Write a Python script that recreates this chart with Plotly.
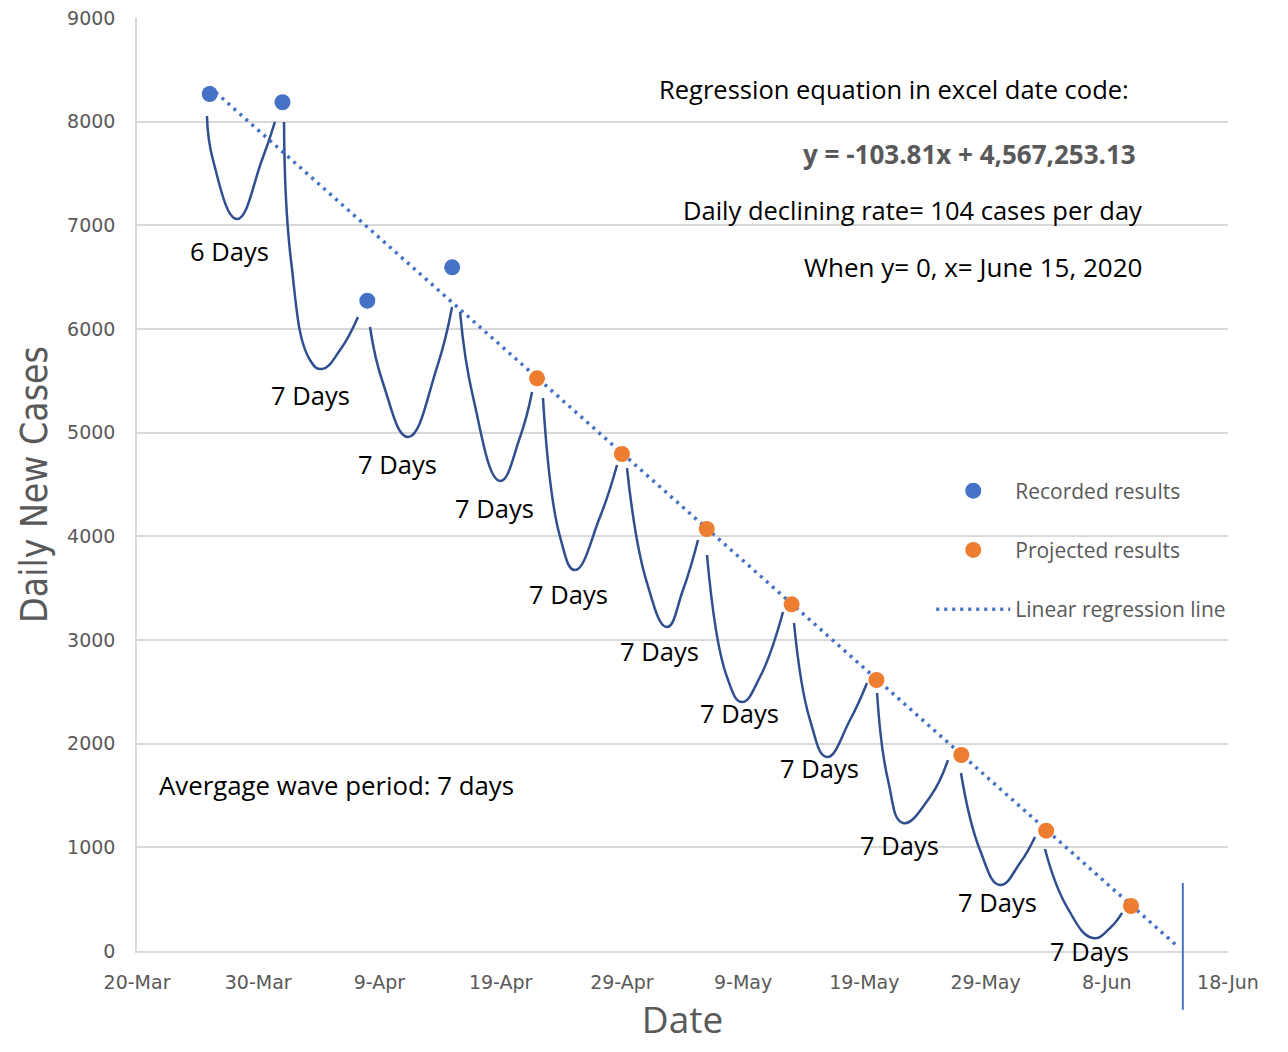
import datetime as dt
import plotly.graph_objects as go

BASE = dt.datetime(2020, 3, 20)

def d(days):
    return BASE + dt.timedelta(days=days)

# --- data ---------------------------------------------------------------
recorded_dates = ["2020-03-26", "2020-04-01", "2020-04-08", "2020-04-15"]
recorded_values = [8267, 8187, 6273, 6595]

projected_dates = ["2020-04-22", "2020-04-29", "2020-05-06", "2020-05-13",
                   "2020-05-20", "2020-05-27", "2020-06-03", "2020-06-10"]
projected_values = [5524, 4794, 4071, 3344, 2614, 1891, 1161, 434]

# regression in Excel date code: y = slope*x + intercept
slope = -103.81
intercept = 4567253.13
excel_mar20 = 43910          # Excel serial of 20-Mar-2020
trend_x_excel = [43916, 43995.7]

# wave sketches: days since 20-Mar and values (start, descent, trough, ascent, end)
wave_days = [
    [5.77, 6.27, 8.25, 10.31, 11.38],
    [12.13, 12.70, 14.27, 15.26, 16.75, 18.23],
    [19.22, 20.29, 22.36, 24.75, 25.99],
    [26.65, 27.72, 29.95, 31.60, 32.59],
    [33.49, 34.90, 36.13, 38.19, 39.60],
    [40.42, 42.07, 43.72, 45.04, 46.28],
    [47.02, 48.67, 49.91, 51.39, 53.29],
    [54.20, 55.52, 56.92, 58.82, 60.22],
    [61.05, 61.95, 63.19, 65.42, 66.90],
    [67.97, 69.54, 71.19, 72.84, 74.08],
    [74.90, 76.72, 78.86, 80.27, 81.26],
]
wave_values = [
    [8055, 7630, 7061, 7630, 7997],
    [7997, 6666, 5701, 5614, 5797, 6116],
    [6019, 5479, 4958, 5633, 6212],
    [6164, 5344, 4534, 4958, 5392],
    [5334, 3994, 3675, 4186, 4688],
    [4659, 3550, 3125, 3482, 3965],
    [3820, 2643, 2402, 2643, 3270],
    [3164, 2228, 1871, 2228, 2585],
    [2489, 1650, 1235, 1486, 1842],
    [1717, 974, 637, 849, 1100],
    [984, 424, 125, 222, 367],
]

label_texts = ["6 Days"] + ["7 Days"] * 10
label_days = [7.59, 14.35, 21.45, 29.53, 35.56, 43.14, 49.74, 56.34, 62.94, 70.95, 78.54]
label_values = [6752, 5363, 4698, 4273, 3444, 2894, 2296, 1765, 1022, 473, 2]

tick_dates = ["2020-03-20", "2020-03-30", "2020-04-09", "2020-04-19", "2020-04-29",
              "2020-05-09", "2020-05-19", "2020-05-29", "2020-06-08", "2020-06-18"]
tick_labels = ["20-Mar", "30-Mar", "9-Apr", "19-Apr", "29-Apr",
               "9-May", "19-May", "29-May", "8-Jun", "18-Jun"]
y_ticks = [0, 1000, 2000, 3000, 4000, 5000, 6000, 7000, 8000, 9000]

# --- derived ------------------------------------------------------------
trend_x = [d(x - excel_mar20) for x in trend_x_excel]
trend_y = [slope * x + intercept for x in trend_x_excel]
zero_day = -intercept / slope - excel_mar20

wx, wy = [], []
for ds, vs in zip(wave_days, wave_values):
    wx += [d(v) for v in ds] + [None]
    wy += vs + [None]

BLUE = "#4472C4"
ORANGE = "#ED7D31"
NAVY = "#2F4F8F"
GRAY = "#595959"
TXT = "Open Sans"

fig = go.Figure()

fig.add_trace(go.Scatter(x=wx, y=wy, mode="lines", line=dict(color=NAVY, width=2.5, shape="spline", smoothing=1.3),
                         showlegend=False, hoverinfo="skip", connectgaps=False))
fig.add_trace(go.Scatter(x=trend_x, y=trend_y, mode="lines", name="Linear regression line",
                         line=dict(color=BLUE, width=3.5, dash="3px,5px"), legendgroup="c", legendrank=3))
fig.add_trace(go.Scatter(x=recorded_dates, y=recorded_values, mode="markers", name="Recorded results",
                         marker=dict(color=BLUE, size=16), legendgroup="a", legendrank=1))
fig.add_trace(go.Scatter(x=projected_dates, y=projected_values, mode="markers", name="Projected results",
                         marker=dict(color=ORANGE, size=16), legendgroup="b", legendrank=2))

for t, dd, vv in zip(label_texts, label_days, label_values):
    fig.add_annotation(x=d(dd), y=vv, text=t, showarrow=False, font=dict(family=TXT, size=25.5, color="#000000"))

notes = [
    ("Regression equation in excel date code:", 0.911, 0.924, 25.5, "#000000"),
    ("<b>y = -103.81x + 4,567,253.13</b>", 0.9177, 0.854, 26, GRAY),
    ("Daily declining rate= 104 cases per day", 0.923, 0.794, 25.5, "#000000"),
    ("When y= 0, x= June 15, 2020", 0.923, 0.733, 26, "#000000"),
]
for t, xp, yp, fs, c in notes:
    fig.add_annotation(x=xp, y=yp, xref="paper", yref="paper", text=t, showarrow=False,
                       xanchor="right", yanchor="middle", font=dict(family=TXT, size=fs, color=c))
fig.add_annotation(x=0.018, y=0.178, xref="paper", yref="paper", text="Avergage wave period: 7 days",
                   showarrow=False, xanchor="left", yanchor="middle", font=dict(family=TXT, size=25.8, color="#000000"))

fig.add_shape(type="line", xref="x", yref="paper", x0=d(zero_day), x1=d(zero_day), y0=-0.063, y1=0.073,
              line=dict(color=BLUE, width=2))

fig.update_layout(
    width=1272, height=1036,
    margin=dict(l=129, r=52, t=10, b=93, autoexpand=False),
    plot_bgcolor="white", paper_bgcolor="white",
    legend=dict(x=0.728, y=0.515, xanchor="left", yanchor="top", traceorder="grouped",
                tracegroupgap=29, itemwidth=74, font=dict(family=TXT, size=21, color=GRAY),
                bgcolor="rgba(0,0,0,0)"),
    xaxis=dict(type="date", range=["2020-03-20", "2020-06-18"], tickvals=tick_dates, ticktext=tick_labels,
               showgrid=False, showline=True, linecolor="#D9D9D9", linewidth=1.5, zeroline=False,
               tickfont=dict(family="DejaVu Sans", size=19, color=GRAY), ticks="", ticklabelstandoff=13,
               ticklabeloverflow="allow", automargin=False,
               title=dict(text="Date", font=dict(family=TXT, size=37, color=GRAY), standoff=35)),
    yaxis=dict(range=[0, 9000], tickvals=y_ticks, showgrid=True, gridcolor="#D9D9D9", gridwidth=1.5,
               showline=True, linecolor="#D9D9D9", linewidth=1.5, zeroline=False,
               tickfont=dict(family="DejaVu Sans", size=19, color=GRAY), ticks="", ticklabelstandoff=16,
               ticklabeloverflow="allow", automargin=False,
               title=dict(text="Daily New Cases", font=dict(family="DejaVu Sans Condensed", size=37, color=GRAY),
                          standoff=8)),
)

fig.write_html("out.html")
